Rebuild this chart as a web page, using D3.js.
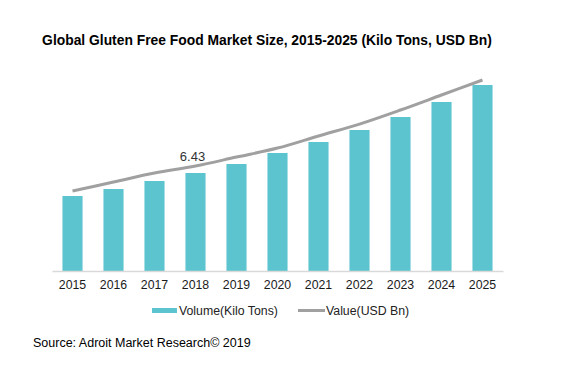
<!DOCTYPE html>
<html>
<head>
<meta charset="utf-8">
<script src="https://cdn.jsdelivr.net/npm/d3@7"></script>
<style>
  body { margin: 0; background: #fff; }
  svg { display: block; font-family: "Liberation Sans", Arial, sans-serif; }
</style>
</head>
<body>
<div id="chart"></div>
<script>
const years = ["2015", "2016", "2017", "2018", "2019", "2020", "2021", "2022", "2023", "2024", "2025"]
const volume = [750, 820, 900, 980, 1070, 1180, 1290, 1410, 1540, 1690, 1860]
const value = [4.90, 5.45, 6.00, 6.43, 6.98, 7.53, 8.27, 9.00, 9.86, 10.78, 11.70]
const labelIndex = 3

const width = 565, height = 383
const baseY = 271, topY = 71

const svg = d3.select("#chart").append("svg")
    .attr("width", width)
    .attr("height", height)

svg.append("text")
    .attr("x", 267)
    .attr("y", 45)
    .attr("text-anchor", "middle")
    .attr("font-weight", "bold")
    .attr("font-size", 13.85)
    .attr("fill", "#000")
    .text("Global Gluten Free Food Market Size, 2015-2025 (Kilo Tons, USD Bn)")

const x = d3.scaleBand()
    .domain(years)
    .range([52, 503])
    .paddingInner(0.51)
    .paddingOuter(0.255)

const yVol = d3.scaleLinear().domain([0, 2000]).range([baseY, topY])
const yVal = d3.scaleLinear().domain([0, 12.25]).range([baseY, topY])

svg.append("g")
    .selectAll("rect")
    .data(volume)
    .join("rect")
    .attr("x", (d, i) => x(years[i]))
    .attr("width", x.bandwidth())
    .attr("y", d => yVol(d))
    .attr("height", d => baseY - yVol(d))
    .attr("fill", "#5bc4ce")

// x axis
const xAxis = svg.append("g")
    .attr("transform", `translate(0,${baseY})`)
    .call(d3.axisBottom(x).tickSize(0).tickPadding(9))
xAxis.select(".domain").attr("stroke", "#d9d9d9").attr("stroke-width", 1.3)
xAxis.selectAll("text")
    .attr("font-size", 12.3)
    .attr("font-family", "Liberation Sans, Arial, sans-serif")
    .attr("fill", "#1a1a1a")

const line = d3.line()
    .x((d, i) => x(years[i]) + x.bandwidth() / 2)
    .y(d => yVal(d))
    .curve(d3.curveCatmullRom.alpha(0.5))

svg.append("path")
    .datum(value)
    .attr("d", line)
    .attr("fill", "none")
    .attr("stroke", "#a0a0a0")
    .attr("stroke-width", 3)
    .attr("stroke-linecap", "butt")

svg.append("text")
    .attr("x", x(years[labelIndex]) + x.bandwidth() / 2 - 3)
    .attr("y", yVal(value[labelIndex]) - 5)
    .attr("text-anchor", "middle")
    .attr("font-size", 13)
    .attr("fill", "#333")
    .text(value[labelIndex].toFixed(2))

// legend
const legend = svg.append("g").attr("font-size", 12.3).attr("fill", "#222")
legend.append("rect")
    .attr("x", 152).attr("y", 308)
    .attr("width", 25).attr("height", 5)
    .attr("fill", "#5bc4ce")
legend.append("text")
    .attr("x", 179).attr("y", 315)
    .attr("fill", "#222")
    .text("Volume(Kilo Tons)")
legend.append("line")
    .attr("x1", 298).attr("x2", 325)
    .attr("y1", 310.5).attr("y2", 310.5)
    .attr("stroke", "#a0a0a0")
    .attr("stroke-width", 3)
legend.append("text")
    .attr("x", 326).attr("y", 315)
    .attr("fill", "#222")
    .text("Value(USD Bn)")

svg.append("text")
    .attr("x", 33)
    .attr("y", 347)
    .attr("font-size", 12.5)
    .attr("fill", "#000")
    .text("Source: Adroit Market Research\u00a9 2019")
</script>
</body>
</html>
